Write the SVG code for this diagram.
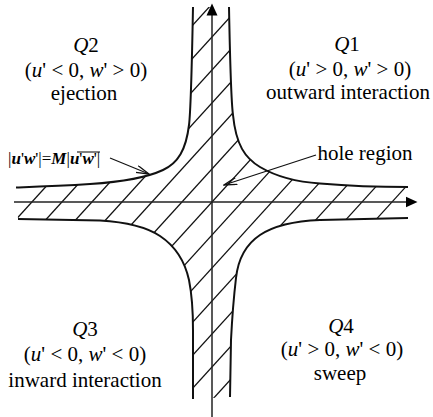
<svg xmlns="http://www.w3.org/2000/svg" width="433" height="417" viewBox="0 0 433 417">
<style>
.t{font-family:"Liberation Serif","Times New Roman",serif;font-size:21px;fill:#000;text-anchor:middle}
.f{font-family:"Liberation Serif","Times New Roman",serif;font-size:17px;fill:#000}
.i{font-style:italic}
.bi{font-style:italic;font-weight:bold}
.curve{fill:none;stroke:#111;stroke-width:2}
.axis{stroke:#222;stroke-width:1.5;fill:none}
.hatch line{stroke:#111;stroke-width:1.3}
.lead{stroke:#111;stroke-width:1.3;fill:none}
</style>
<defs>
<marker id="axhead" markerUnits="userSpaceOnUse" markerWidth="13" markerHeight="12" refX="0.5" refY="6" orient="auto">
<path d="M0,0.5 L12,6 L0,11.5 Z" fill="#000"/>
</marker>
<marker id="vhead" markerUnits="userSpaceOnUse" markerWidth="14" markerHeight="9" refX="13" refY="4" orient="auto">
<path d="M0,0.5 L13,4 L0,7.5" fill="none" stroke="#111" stroke-width="1.3"/>
</marker>
<clipPath id="region">
<path d="M193,7 C192,60 191,110 189,125 C186,150 178,163 163,170 C148,177 120,182 90,184 C60,186 30,187 16,187.5 L18,219 L100,220.5 C125,222 145,226 160,236 C175,246 185,262 189,280 C192,295 193,310 193,330 L193,399 L230,397 L231,340 C232,320 234,295 236,278 C238,260 245,245 260,235 C275,225 295,221 320,220 L408,218 L408,187 C380,187 350,186 320,183.5 C297,182 277,177 260,167 C245,158 236,145 233,115 C231,100 230,60 229,7 Z"/>
</clipPath>
</defs>
<rect width="433" height="417" fill="#fff"/>

<g id="hatching" class="hatch" clip-path="url(#region)">
<line x1="185.6" y1="0" x2="-196.2" y2="420"/>
<line x1="215.6" y1="0" x2="-166.2" y2="420"/>
<line x1="245.6" y1="0" x2="-136.2" y2="420"/>
<line x1="275.6" y1="0" x2="-106.2" y2="420"/>
<line x1="305.6" y1="0" x2="-76.2" y2="420"/>
<line x1="335.6" y1="0" x2="-46.2" y2="420"/>
<line x1="365.6" y1="0" x2="-16.2" y2="420"/>
<line x1="395.6" y1="0" x2="13.8" y2="420"/>
<line x1="425.6" y1="0" x2="43.8" y2="420"/>
<line x1="455.6" y1="0" x2="73.8" y2="420"/>
<line x1="485.6" y1="0" x2="103.8" y2="420"/>
<line x1="515.6" y1="0" x2="133.8" y2="420"/>
<line x1="545.6" y1="0" x2="163.8" y2="420"/>
<line x1="575.6" y1="0" x2="193.8" y2="420"/>
<line x1="605.6" y1="0" x2="223.8" y2="420"/>
</g>

<g id="axes">
<line class="axis" x1="212" y1="417" x2="212" y2="15" marker-end="url(#axhead)"/>
<line class="axis" x1="14" y1="202" x2="406" y2="202" marker-end="url(#axhead)"/>
</g>

<g id="curves">
<path id="curve-q2" class="curve" d="M193,7 C192,60 191,110 189,125 C186,150 178,163 163,170 C148,177 120,182 90,184 C60,186 30,187 16,187.5"/>
<path id="curve-q1" class="curve" d="M229,7 C230,60 231,100 233,115 C236,145 245,158 260,167 C277,177 297,182 320,183.5 C350,186 380,187 408,187"/>
<path id="curve-q3" class="curve" d="M18,219 L100,220.5 C125,222 145,226 160,236 C175,246 185,262 189,280 C192,295 193,310 193,330 L193,399"/>
<path id="curve-q4" class="curve" d="M408,218 L320,220 C295,221 275,225 260,235 C245,245 238,260 236,278 C234,295 232,320 231,340 L230,397"/>
</g>

<g id="connectors">
<line class="lead" x1="110" y1="158" x2="149" y2="174" marker-end="url(#vhead)"/>
<line class="lead" x1="316" y1="155" x2="224" y2="185" marker-end="url(#vhead)"/>
</g>

<g id="q2">
<text class="t" x="86" y="52"><tspan class="i">Q</tspan>2</text>
<text class="t" x="86" y="77">(<tspan class="i">u</tspan>' &lt; 0, <tspan class="i">w</tspan>' &gt; 0)</text>
<text class="t" x="84" y="100">ejection</text>
</g>
<g id="q1">
<text class="t" x="347" y="51"><tspan class="i">Q</tspan>1</text>
<text class="t" x="350" y="76">(<tspan class="i">u</tspan>' &gt; 0, <tspan class="i">w</tspan>' &gt; 0)</text>
<text class="t" x="348" y="99">outward interaction</text>
</g>
<g id="q3">
<text class="t" x="85" y="336"><tspan class="i">Q</tspan>3</text>
<text class="t" x="85" y="361">(<tspan class="i">u</tspan>' &lt; 0, <tspan class="i">w</tspan>' &lt; 0)</text>
<text class="t" x="85" y="387">inward interaction</text>
</g>
<g id="q4">
<text class="t" x="341" y="333"><tspan class="i">Q</tspan>4</text>
<text class="t" x="342" y="356">(<tspan class="i">u</tspan>' &gt; 0, <tspan class="i">w</tspan>' &lt; 0)</text>
<text class="t" x="340" y="380">sweep</text>
</g>
<g id="hole-label">
<text class="t" x="365" y="160">hole region</text>
</g>
<g id="formula">
<text class="f" x="8" y="164">|<tspan class="bi">u</tspan>'<tspan class="bi">w</tspan>'|=<tspan class="bi">M</tspan>|<tspan class="bi">u</tspan>'<tspan class="bi">w</tspan>'|</text>
<line x1="77" y1="152" x2="100" y2="152" stroke="#000" stroke-width="1"/>
</g>
</svg>
